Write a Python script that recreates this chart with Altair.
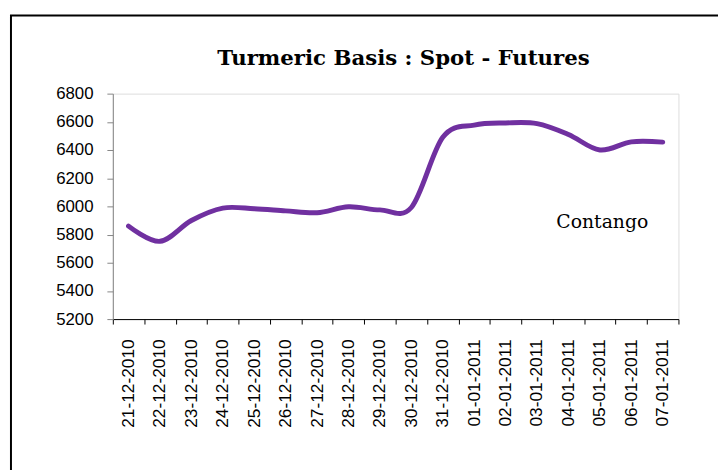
import altair as alt
import pandas as pd

dates = ["21-12-2010", "22-12-2010", "23-12-2010", "24-12-2010", "25-12-2010",
         "26-12-2010", "27-12-2010", "28-12-2010", "29-12-2010", "30-12-2010",
         "31-12-2010", "01-01-2011", "02-01-2011", "03-01-2011", "04-01-2011",
         "05-01-2011", "06-01-2011", "07-01-2011"]
basis = [5860, 5752, 5900, 5988, 5983, 5968, 5955, 5997, 5975, 5992,
         6490, 6577, 6592, 6587, 6510, 6400, 6458, 6456]
y_ticks = [5200, 5400, 5600, 5800, 6000, 6200, 6400, 6600, 6800]
title_text = "Turmeric Basis : Spot - Futures"
note_text = "Contango"

df = pd.DataFrame({"date": dates, "basis": basis})

W, H = 572, 228

frame = alt.Chart(alt.Data(values=[{}])).mark_rect(
    fill=None, stroke="black", strokeWidth=2
).encode(
    x=alt.value(-103), x2=alt.value(700), y=alt.value(-79), y2=alt.value(450)
)

line = alt.Chart(df).mark_line(
    color="#7030A0", strokeWidth=5, interpolate="cardinal", strokeCap="round"
).encode(
    x=alt.X("date:N", sort=dates, title=None,
            scale=alt.Scale(type="band", paddingInner=0, paddingOuter=0),
            axis=alt.Axis(labelAngle=-90, tickBand="extent", tickSize=5,
                          labelPadding=15, domainColor="black", tickColor="black",
                          labelFont="Liberation Sans", labelFontSize=17.5,
                          labelColor="black", grid=False)),
    y=alt.Y("basis:Q", title=None,
            scale=alt.Scale(domain=[5200, 6800], nice=False, zero=False),
            axis=alt.Axis(values=y_ticks, tickSize=6, labelPadding=14,
                          domainColor="#868686", tickColor="#868686",
                          labelFont="Liberation Sans", labelFontSize=17,
                          labelColor="black", grid=False, format="d"))
)

note = alt.Chart(alt.Data(values=[{"t": note_text}])).mark_text(
    font="DejaVu Serif", fontSize=19, align="center", baseline="alphabetic",
    color="black"
).encode(x=alt.value(495), y=alt.value(136), text="t:N")

title = alt.Chart(alt.Data(values=[{"t": title_text}])).mark_text(
    font="DejaVu Serif", fontSize=21.5, fontWeight="bold", align="center",
    baseline="alphabetic", color="black"
).encode(x=alt.value(294), y=alt.value(-29), text="t:N")

chart = alt.layer(frame, line, note, title).properties(
    width=W, height=H,
    autosize=alt.AutoSizeParams(type="none"),
    padding={"left": 106, "top": 84, "right": 40, "bottom": 150},
).configure_view(stroke=None).configure(background="white")

chart.save("out.html", embed_options={"renderer": "svg", "actions": False})
